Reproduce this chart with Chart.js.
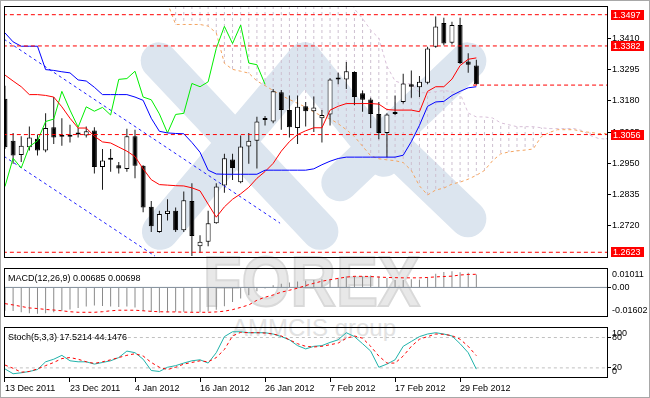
<!DOCTYPE html>
<html>
<head>
<meta charset="utf-8">
<script src="https://cdn.jsdelivr.net/npm/chart.js@4.4.1/dist/chart.umd.min.js"></script>
<style>
  html, body { margin: 0; padding: 0; background: #fff; }
  #wrap { position: relative; width: 650px; height: 398px; overflow: hidden; background: #fff; }
  #wrap canvas { position: absolute; left: 0; z-index: 2; }
  .wm { position: absolute; z-index: 1; font-family: "Liberation Sans", Arial, sans-serif; white-space: nowrap; }
  #wmBig { left: 203px; top: 247px; font-size: 70px; font-weight: bold; line-height: 70px; color: #e8e8e8;
           -webkit-text-stroke: 2px #d9d9d9; transform: scaleX(0.9); transform-origin: left top; }
  #wmSmall { left: 232px; top: 316px; font-size: 24px; line-height: 24px; color: #e2e2e2; }
  #edge { position: absolute; left: 0; top: 0; width: 650px; height: 398px; box-sizing: border-box;
          border: 1px solid #a8a8a8; z-index: 5; pointer-events: none; }
</style>
</head>
<body>
<div id="wrap">
  <div class="wm" id="wmBig">FOREX</div>
  <div class="wm" id="wmSmall">AMMCIS group</div>
  <canvas id="mainChart" width="650" height="265" style="top:0"></canvas>
  <canvas id="macdChart" width="650" height="62" style="top:262px"></canvas>
  <canvas id="stochChart" width="650" height="77" style="top:321px"></canvas>
  <div id="edge"></div>
</div>
<script>
// x axis: bar index, date labels every 8 bars
const dateLabels = ['13 Dec 2011', '23 Dec 2011', '4 Jan 2012', '16 Jan 2012', '26 Jan 2012', '7 Feb 2012', '17 Feb 2012', '29 Feb 2012'];
const dateIdx = [0, 8, 16, 24, 32, 40, 48, 56];

// daily candles
const opens = [1.3188, 1.3033, 1.2981, 1.3009, 1.3041, 1.2997, 1.3083, 1.3050, 1.3050, 1.3059,
  1.3053, 1.3071, 1.2937, 1.2963, 1.2943, 1.2929, 1.3050, 1.2941, 1.2790, 1.2698,
  1.2764, 1.2776, 1.2704, 1.2812, 1.2645, 1.2662, 1.2730, 1.2869, 1.2964, 1.2881,
  1.3012, 1.3033, 1.3110, 1.3104, 1.3212, 1.3146, 1.3080, 1.3160, 1.3142, 1.3116,
  1.3130, 1.3259, 1.3259, 1.3286, 1.3208, 1.3185, 1.3132, 1.3062, 1.3132, 1.3176,
  1.3241, 1.3230, 1.3247, 1.3379, 1.3466, 1.3394, 1.3459, 1.3325, 1.3310];
const highs = [1.3236, 1.3062, 1.3050, 1.3086, 1.3056, 1.3134, 1.3194, 1.3116, 1.3092, 1.3080,
  1.3086, 1.3083, 1.3003, 1.3003, 1.2955, 1.3077, 1.3074, 1.2943, 1.2812, 1.2776,
  1.2818, 1.2788, 1.2847, 1.2877, 1.2686, 1.2776, 1.2877, 1.2985, 1.2985, 1.3053,
  1.3062, 1.3122, 1.3124, 1.3224, 1.3220, 1.3200, 1.3200, 1.3176, 1.3196, 1.3146,
  1.3263, 1.3283, 1.3323, 1.3289, 1.3218, 1.3191, 1.3176, 1.3134, 1.3200, 1.3280,
  1.3292, 1.3271, 1.3379, 1.3490, 1.3486, 1.3471, 1.3486, 1.3355, 1.3331];
const lows = [1.3003, 1.2949, 1.2955, 1.2997, 1.2979, 1.2991, 1.3021, 1.3015, 1.3027, 1.3045,
  1.3045, 1.2913, 1.2853, 1.2919, 1.2913, 1.2919, 1.2895, 1.2770, 1.2698, 1.2695,
  1.2740, 1.2698, 1.2698, 1.2609, 1.2621, 1.2645, 1.2728, 1.2842, 1.2889, 1.2877,
  1.2949, 1.2931, 1.3089, 1.3098, 1.3074, 1.3045, 1.3021, 1.3086, 1.3065, 1.3027,
  1.3089, 1.3241, 1.3224, 1.3164, 1.3140, 1.3080, 1.3039, 1.2973, 1.3128, 1.3170,
  1.3191, 1.3194, 1.3241, 1.3375, 1.3385, 1.3387, 1.3316, 1.3283, 1.3239];
const closes = [1.3009, 1.2979, 1.3015, 1.3045, 1.2997, 1.3080, 1.3045, 1.3048, 1.3048, 1.3056,
  1.3068, 1.2937, 1.2961, 1.2964, 1.2931, 1.3050, 1.2941, 1.2788, 1.2719, 1.2764,
  1.2776, 1.2704, 1.2814, 1.2683, 1.2662, 1.2730, 1.2865, 1.2969, 1.2933, 1.3012,
  1.3033, 1.3104, 1.3113, 1.3215, 1.3146, 1.3083, 1.3158, 1.3142, 1.3156, 1.3128,
  1.3259, 1.3262, 1.3289, 1.3194, 1.3184, 1.3132, 1.3062, 1.3130, 1.3134, 1.3244,
  1.3232, 1.3250, 1.3373, 1.3454, 1.3391, 1.3459, 1.3319, 1.3313, 1.3241];

// Ichimoku
const tenkan = [1.3275, 1.3253, 1.3232, 1.3203, 1.3203, 1.3200, 1.3194, 1.3158, 1.3116, 1.3080,
  1.3080, 1.3050, 1.3029, 1.3025, 1.3010, 1.2995, 1.2975, 1.2930, 1.2890, 1.2872,
  1.2870, 1.2868, 1.2867, 1.2860, 1.2849, 1.2800, 1.2752, 1.2790, 1.2818, 1.2838,
  1.2862, 1.2895, 1.2920, 1.2950, 1.2995, 1.3030, 1.3056, 1.3070, 1.3081, 1.3081,
  1.3146, 1.3160, 1.3170, 1.3170, 1.3170, 1.3170, 1.3168, 1.3148, 1.3146, 1.3146,
  1.3146, 1.3140, 1.3215, 1.3232, 1.3232, 1.3260, 1.3310, 1.3333, 1.3338];
const kijun = [1.3430, 1.3397, 1.3381, 1.3381, 1.3381, 1.3295, 1.3292, 1.3287, 1.3283, 1.3257,
  1.3253, 1.3230, 1.3203, 1.3203, 1.3203, 1.3203, 1.3194, 1.3182, 1.3116, 1.3068,
  1.3062, 1.3060, 1.3059, 1.3027, 1.2991, 1.2925, 1.2911, 1.2910, 1.2910, 1.2910,
  1.2910, 1.2910, 1.2925, 1.2925, 1.2925, 1.2925, 1.2925, 1.2925, 1.2930, 1.2945,
  1.2958, 1.2968, 1.2973, 1.2973, 1.2973, 1.2973, 1.2973, 1.2973, 1.2973, 1.2980,
  1.3030, 1.3090, 1.3160, 1.3176, 1.3178, 1.3200, 1.3215, 1.3228, 1.3232];
const chikou = [1.2865, 1.2969, 1.2933, 1.3012, 1.3033, 1.3104, 1.3113, 1.3215, 1.3146, 1.3083,
  1.3158, 1.3142, 1.3156, 1.3128, 1.3259, 1.3262, 1.3289, 1.3194, 1.3184, 1.3132,
  1.3062, 1.3130, 1.3134, 1.3244, 1.3232, 1.3250, 1.3373, 1.3454, 1.3391, 1.3459,
  1.3319, 1.3313, 1.3241];
const cloudStart = 20;
const senkouA = [1.3540, 1.3461, 1.3461, 1.3461, 1.3461, 1.3455, 1.3430, 1.3318, 1.3296, 1.3289,
  1.3282, 1.3253, 1.3236, 1.3218, 1.3200, 1.3185, 1.3171, 1.3157, 1.3139, 1.3124,
  1.3114, 1.3096, 1.3074, 1.3049, 1.3013, 1.2978, 1.2967, 1.2963, 1.2960, 1.2953,
  1.2924, 1.2867, 1.2834, 1.2852, 1.2859, 1.2874, 1.2881, 1.2892, 1.2906, 1.2924,
  1.2960, 1.2985, 1.2992, 1.2996, 1.2999, 1.3003, 1.3049, 1.3064, 1.3074, 1.3074,
  1.3074, 1.3067, 1.3064, 1.3060, 1.3060];
const senkouB = [1.3600, 1.3600, 1.3600, 1.3600, 1.3600, 1.3600, 1.3600, 1.3600, 1.3600, 1.3600,
  1.3600, 1.3600, 1.3600, 1.3600, 1.3600, 1.3600, 1.3600, 1.3600, 1.3600, 1.3600,
  1.3600, 1.3600, 1.3600, 1.3518, 1.3483, 1.3440, 1.3411, 1.3307, 1.3253, 1.3243,
  1.3243, 1.3210, 1.3210, 1.3214, 1.3218, 1.3214, 1.3207, 1.3135, 1.3121, 1.3121,
  1.3117, 1.3099, 1.3092, 1.3085, 1.3085, 1.3085, 1.3081, 1.3078, 1.3078, 1.3078,
  1.3078, 1.3071, 1.3053, 1.3042, 1.3039];

// drawn objects
const levels = [1.3497, 1.3382, 1.3056, 1.2623];
const bidLine = { from: 57.6, price: 1.3238 };
const channelUpper = [[-0.12, 1.3407], [33.85, 1.2730]];
const channelLower = [[-0.12, 1.2976], [18.46, 1.2609]];
const priceTicks = [1.2720, 1.2835, 1.2950, 1.3065, 1.3180, 1.3295, 1.3410];
const priceRange = [1.25997, 1.35275];

// MACD(12,26,9)
const macdMain = [-0.0124, -0.0125, -0.0132, -0.0137, -0.0140, -0.0137, -0.0132, -0.0124, -0.0117, -0.0109,
  -0.0101, -0.0096, -0.0098, -0.0101, -0.0104, -0.0101, -0.0106, -0.0125, -0.0130, -0.0134,
  -0.0132, -0.0129, -0.0129, -0.0132, -0.0132, -0.0128, -0.0118, -0.0100, -0.0078, -0.0059,
  -0.0042, -0.0020, -0.0005, 0.0012, 0.0020, 0.0026, 0.0032, 0.0036, 0.0040, 0.0044,
  0.0042, 0.0052, 0.0060, 0.0059, 0.0060, 0.0064, 0.0060, 0.0050, 0.0040, 0.0039,
  0.0043, 0.0042, 0.0054, 0.0073, 0.0082, 0.0086, 0.0081, 0.0078, 0.00685];
const macdSignal = [-0.0086, -0.0093, -0.0101, -0.0109, -0.0112, -0.0117, -0.0120, -0.0124, -0.0129, -0.0132,
  -0.0132, -0.0132, -0.0129, -0.0124, -0.0121, -0.0121, -0.0121, -0.0124, -0.0127, -0.0129,
  -0.0130, -0.0130, -0.0131, -0.0132, -0.0132, -0.0132, -0.0130, -0.0126, -0.0118, -0.0106,
  -0.0093, -0.0068, -0.0052, -0.0040, -0.0025, -0.0015, -0.0004, 0.0010, 0.0022, 0.0033,
  0.0041, 0.0048, 0.0055, 0.0059, 0.0059, 0.0058, 0.0055, 0.0053, 0.0052, 0.0051,
  0.0051, 0.0051, 0.0053, 0.0056, 0.0058, 0.0060, 0.0066, 0.0069, 0.00698];
const macdRange = [-0.01602, 0.01011];

// Stochastic(5,3,3)
const stochK = [18.0, 8.4, 10.3, 12.9, 16.7, 32.0, 37.1, 44.8, 34.0, 32.0,
  32.0, 27.5, 30.7, 34.0, 40.4, 53.2, 50.0, 37.1, 14.8, 12.9,
  21.2, 24.4, 29.5, 34.0, 36.0, 29.5, 50.0, 81.8, 91.4, 91.4,
  89.5, 89.5, 89.5, 86.9, 81.8, 75.5, 64.0, 57.5, 62.6, 64.0,
  70.3, 75.5, 89.5, 81.8, 67.8, 53.2, 21.2, 27.5, 36.0, 62.6,
  72.2, 81.8, 86.9, 89.5, 86.9, 83.1, 67.8, 50.0, 17.5214];
const stochD = [25.6, 19.2, 11.5, 12.9, 18.0, 24.4, 30.7, 38.4, 40.4, 37.1,
  32.0, 28.8, 32.0, 35.9, 40.4, 44.8, 48.0, 43.5, 30.7, 21.2,
  16.7, 21.2, 27.5, 30.7, 34.0, 32.0, 40.4, 56.3, 83.1, 90.2,
  89.5, 89.5, 88.8, 86.9, 83.1, 75.5, 67.8, 62.6, 61.3, 62.6,
  65.8, 69.0, 78.6, 83.1, 78.6, 62.6, 43.4, 29.5, 29.5, 43.4,
  62.6, 76.6, 81.8, 86.9, 86.3, 83.7, 76.6, 62.6, 44.1476];
const stochLevels = [20, 80];

const xMin = -0.12, xMax = 74.2;

Chart.defaults.font.family = '"Liberation Sans", Arial, sans-serif';
Chart.defaults.font.size = 9;
Chart.defaults.color = '#000';

const pts = (arr, start = 0) => arr.map((v, k) => ({ x: start + k, y: v }));
const hline = (y, from = xMin - 1, to = xMax + 1) => [{ x: from, y }, { x: to, y }];

function line(data, color, extra = {}) {
  return Object.assign({ type: 'line', data, borderColor: color, borderWidth: 1, pointRadius: 0, fill: false, tension: 0 }, extra);
}

// thin 1px bars (wicks, cloud hatch, histogram) - no inflation so they stay thin
function thinBars(data, color, order) {
  return { type: 'bar', data, backgroundColor: color, barThickness: 1, inflateAmount: 0, grouped: false, order };
}

function hatch(color) {
  const c = document.createElement('canvas');
  c.width = 1; c.height = 6;
  const g = c.getContext('2d');
  g.fillStyle = color;
  g.fillRect(0, 0, 1, 3);
  return g.createPattern(c, 'repeat');
}

function xScale(show) {
  return {
    type: 'linear', min: xMin, max: xMax, offset: false, display: show,
    border: { display: false },
    grid: { drawOnChartArea: false, drawTicks: true, tickLength: 4, color: '#000' },
    afterBuildTicks: s => { s.ticks = dateIdx.map(v => ({ value: v })); },
    afterFit: s => { if (show) s.height = 20; },
    ticks: { autoSkip: false, maxRotation: 0, minRotation: 0, align: 'start', padding: 1,
      callback: v => dateLabels[dateIdx.indexOf(v)] || '' }
  };
}

function yScale(min, max, ticks, fmt) {
  return {
    position: 'right', min, max,
    border: { display: false },
    grid: { drawOnChartArea: false, drawTicks: true, tickLength: 3, color: '#000' },
    afterFit: s => { s.width = 42; },
    afterBuildTicks: s => { s.ticks = ticks.map(v => ({ value: v })); },
    ticks: { padding: 1, callback: fmt }
  };
}

const framePlugin = {
  id: 'frame',
  afterDatasetsDraw(chart) {
    const { ctx, chartArea: a } = chart;
    ctx.save();
    ctx.strokeStyle = '#000';
    ctx.lineWidth = 1;
    ctx.strokeRect(Math.round(a.left) + 0.5, Math.round(a.top) + 0.5, Math.round(a.width) - 1, Math.round(a.height) - 1);
    ctx.restore();
  }
};

// faint logo strokes behind the price chart, placed relative to the plot area
const logoPlugin = {
  id: 'logo',
  beforeDatasetsDraw(chart) {
    const { ctx, chartArea: a } = chart;
    const bands = [[0.257, 0.216, 0.523, 0.892], [0.259, 0.892, 0.498, 0.216], [0.498, 0.216, 0.629, 0.602],
      [0.556, 0.699, 0.768, 0.216], [0.647, 0.564, 0.768, 0.842]];
    ctx.save();
    ctx.beginPath();
    ctx.rect(a.left, a.top, a.width, a.height);
    ctx.clip();
    ctx.lineCap = 'round';
    ctx.lineWidth = 37;
    ctx.strokeStyle = '#dce5ef';
    bands.forEach(([x1, y1, x2, y2]) => {
      ctx.beginPath();
      ctx.moveTo(a.left + x1 * a.width, a.top + y1 * a.height);
      ctx.lineTo(a.left + x2 * a.width, a.top + y2 * a.height);
      ctx.stroke();
    });
    ctx.restore();
  }
};

const priceTagPlugin = {
  id: 'priceTags',
  afterDraw(chart) {
    const { ctx, chartArea: a, scales: { y } } = chart;
    ctx.save();
    ctx.font = '9px "Liberation Sans", Arial, sans-serif';
    ctx.textBaseline = 'middle';
    levels.forEach(v => {
      const py = Math.round(y.getPixelForValue(v));
      ctx.fillStyle = '#ff0000';
      ctx.fillRect(a.right + 3, py - 5, 33, 10);
      ctx.fillStyle = '#fff';
      ctx.fillText(v.toFixed(4), a.right + 5, py + 0.5);
    });
    ctx.restore();
  }
};

function panelText(items) {
  return {
    id: 'panelText',
    afterDraw(chart) {
      const { ctx, chartArea: a } = chart;
      ctx.save();
      ctx.font = '9px "Liberation Sans", Arial, sans-serif';
      ctx.textBaseline = 'middle';
      ctx.fillStyle = '#000';
      items.forEach(([txt, side, dy]) => {
        if (side === 'title') ctx.fillText(txt, a.left + 4, a.top + dy);
        else ctx.fillText(txt, a.right + 4, side === 'top' ? a.top + dy : a.bottom - dy);
      });
      ctx.restore();
    }
  };
}

const baseOptions = (padding, x, y) => ({
  responsive: false,
  animation: false,
  events: [],
  layout: { padding },
  plugins: { legend: { display: false }, tooltip: { enabled: false } },
  scales: { x, y }
});

// ---------- main price panel ----------
const candleIdx = closes.map((_, i) => i);
const bodyColors = candleIdx.map(i => closes[i] > opens[i] ? '#ffffff' : '#000000');
const cloudIdx = senkouA.map((_, k) => cloudStart + k);

new Chart(document.getElementById('mainChart'), {
  type: 'line',
  data: {
    datasets: [
      thinBars(cloudIdx.map((x, k) => ({ x, y: [senkouA[k], senkouB[k]] })), hatch('#cdbfd0'), 9),
      line(pts(senkouA, cloudStart), '#f4a460', { borderDash: [3, 3], order: 7 }),
      line(pts(senkouB, cloudStart), '#d8bfd8', { borderDash: [3, 3], order: 7 }),
      thinBars(candleIdx.map(i => ({ x: i, y: [lows[i], highs[i]] })), '#1a1a1a', 6),
      { type: 'bar', data: candleIdx.map(i => ({ x: i, y: [opens[i], closes[i]] })), backgroundColor: bodyColors,
        borderColor: '#000', borderWidth: 1, borderSkipped: false, barThickness: 5, minBarLength: 2,
        inflateAmount: 0, grouped: false, order: 5 },
      line(channelUpper.map(([x, y]) => ({ x, y })), '#2020ff', { borderDash: [3, 3], order: 4 }),
      line(channelLower.map(([x, y]) => ({ x, y })), '#2020ff', { borderDash: [3, 3], order: 4 }),
      line(pts(kijun), '#0000ff', { order: 3 }),
      line(pts(tenkan), '#ff0000', { order: 3 }),
      line(pts(chikou), '#00ee00', { order: 3 }),
      ...levels.map(v => line(hline(v), '#ff0000', { borderDash: [4, 3], order: 1 })),
      line(hline(bidLine.price, bidLine.from), '#ff0000', { borderDash: [4, 3], order: 1 })
    ]
  },
  options: baseOptions({ left: 4, top: 4, right: 0, bottom: 2 }, xScale(false),
    yScale(priceRange[0], priceRange[1], priceTicks, v => Number(v).toFixed(4))),
  plugins: [logoPlugin, framePlugin, priceTagPlugin]
});

// ---------- MACD panel ----------
new Chart(document.getElementById('macdChart'), {
  type: 'line',
  data: {
    datasets: [
      line(hline(0), '#7f8c99', { order: 3 }),
      thinBars(pts(macdMain), '#8a8a8a', 2),
      line(pts(macdSignal), '#ff0000', { borderDash: [3, 3], order: 1 })
    ]
  },
  options: baseOptions({ left: 4, top: 4, right: 0, bottom: 2 }, xScale(false),
    yScale(macdRange[0], macdRange[1], [0], () => '0.00')),
  plugins: [framePlugin, panelText([
    ['MACD(12,26,9) ' + macdMain[macdMain.length - 1].toFixed(5) + ' ' + macdSignal[macdSignal.length - 1].toFixed(5), 'title', 10],
    [macdRange[1].toFixed(5), 'top', 6],
    [macdRange[0].toFixed(5), 'bottom', 7]
  ])]
});

// ---------- Stochastic panel ----------
new Chart(document.getElementById('stochChart'), {
  type: 'line',
  data: {
    datasets: [
      ...stochLevels.map(v => line(hline(v), '#c0c0c0', { borderDash: [3, 3], order: 3 })),
      line(pts(stochK), '#20b2aa', { order: 2 }),
      line(pts(stochD), '#ff0000', { borderDash: [3, 3], order: 1 })
    ]
  },
  options: baseOptions({ left: 4, top: 4, right: 0, bottom: 0 }, xScale(true),
    yScale(0, 100, stochLevels, v => String(v))),
  plugins: [framePlugin, panelText([
    ['Stoch(5,3,3) ' + stochK[stochK.length - 1].toFixed(4) + ' ' + stochD[stochD.length - 1].toFixed(4), 'title', 10],
    ['100', 'top', 6],
    ['0', 'bottom', 6]
  ])]
});
</script>
</body>
</html>
